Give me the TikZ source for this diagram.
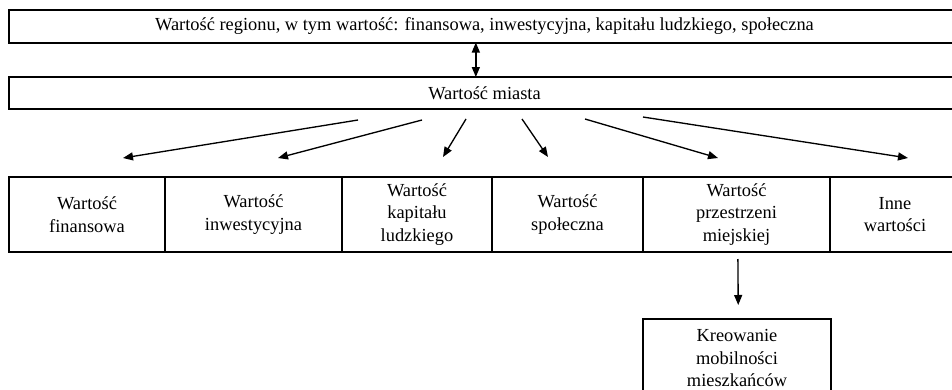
\documentclass[tikz,border=0pt]{standalone}
\usepackage{fontspec}
\setmainfont{Liberation Serif}
\usetikzlibrary{positioning,arrows.meta}
\tikzset{
  box/.style = {draw, line width=1.5pt, outer sep=0pt, inner sep=0pt, align=center},
  rowbox/.style = {box, minimum height=56.25pt},
  arr/.style = {-{Triangle[length=7.5pt,width=6pt]}, line width=1pt},
  dblarr/.style = {{Triangle[length=7.5pt,width=6pt]}-{Triangle[length=7.5pt,width=6pt]}, line width=1pt}
}
\begin{document}
\begin{tikzpicture}[x=0.75pt, y=-0.75pt, font=\fontsize{13.8}{17}\selectfont]
     \useasboundingbox (0,0) rectangle (952,389);
     % the nodes
     \node (region) [box, minimum width=713.25pt, minimum height=24.4pt] at (484.5,26.25)
       {Wartość regionu, w tym wartość: finansowa, inwestycyjna, kapitału ludzkiego, społeczna};
     \node (miasta) [box, minimum width=713.25pt, minimum height=24pt] at (484.5,93) {Wartość miasta};
     \node (finansowa) [rowbox, minimum width=117pt] at (87,214.5) {Wartość\\finansowa};
     \node (inwestycyjna) [rowbox, minimum width=132.75pt, right = 0pt of finansowa] {Wartość\\inwestycyjna};
     \node (kapital) [rowbox, minimum width=112.5pt, right = 0pt of inwestycyjna] {Wartość\\kapitału\\ludzkiego};
     \node (spoleczna) [rowbox, minimum width=113.25pt, right = 0pt of kapital] {Wartość\\społeczna};
     \node (przestrzen) [rowbox, minimum width=140.25pt, right = 0pt of spoleczna] {Wartość\\przestrzeni\\miejskiej};
     \node (inne) [rowbox, minimum width=97.5pt, right = 0pt of przestrzen] {Inne\\wartości};
     \node (mobilnosc) [box, minimum width=141pt, minimum height=58.5pt] at (737,358)
       {Kreowanie\\mobilności\\mieszkańców};
     % the arrow ends
     \coordinate (from fin) at (358,120);  \coordinate (to fin) at (123,158);
     \coordinate (from inw) at (422,120);  \coordinate (to inw) at (278,158);
     \coordinate (from kap) at (466,119);  \coordinate (to kap) at (443,157);
     \coordinate (from spo) at (522,119);  \coordinate (to spo) at (548,157);
     \coordinate (from prz) at (585,119);  \coordinate (to prz) at (718,158);
     \coordinate (from inne) at (643,117); \coordinate (to inne) at (908,158);
     % the arrows
     \draw[dblarr] ([xshift=-6.5pt]region.south) to ([xshift=-6.5pt]miasta.north);
     \draw[arr] (from fin) to (to fin);
     \draw[arr] (from inw) to (to inw);
     \draw[arr] (from kap) to (to kap);
     \draw[arr] (from spo) to (to spo);
     \draw[arr] (from prz) to (to prz);
     \draw[arr] (from inne) to (to inne);
     \draw[arr, shorten <=5.25pt, shorten >=10.5pt] ([xshift=1pt]przestrzen.south) to ([xshift=1pt]mobilnosc.north);
\end{tikzpicture}
\end{document}
